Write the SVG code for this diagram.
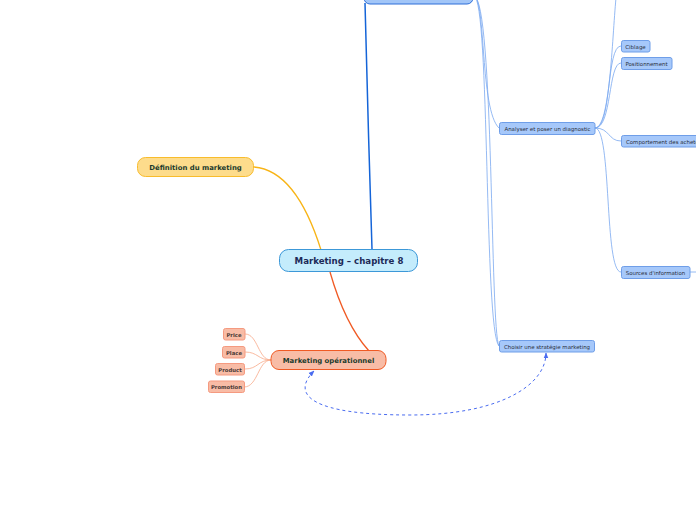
<svg xmlns="http://www.w3.org/2000/svg" width="696" height="520" viewBox="0 0 696 520">
<defs>
<marker id="arr" viewBox="0 0 10 10" refX="9" refY="5" markerWidth="6" markerHeight="6" orient="auto-start-reverse" markerUnits="userSpaceOnUse">
<path d="M0,1 L10,5 L0,9 z" fill="#4a6cf0"/>
</marker>
<style>
text{font-family:"DejaVu Sans","Liberation Sans",sans-serif;text-anchor:middle;dominant-baseline:central}
.blue rect{fill:#a6c8fa;stroke:#6f9ee8;stroke-width:1}
.blue text{font-size:5.45px;fill:#2a2f3a}
.sal rect{fill:#f8bca6;stroke:#f59a80;stroke-width:1}
.sal text{font-size:5.3px;fill:#4a3a36;font-weight:bold}
.c path{fill:none}
.lb{stroke:#7aa8f0;stroke-width:0.8}
.ls{stroke:#f8a888;stroke-width:0.8}
</style>
</defs>
<rect width="696" height="520" fill="#ffffff"/>
<g id="connectors" class="c">
<path d="M372,249 C370,180 366,60 365,3" stroke="#1464d8" stroke-width="1.5"/>
<path d="M254,167 C290,170 310,215 321,250" stroke="#f8b416" stroke-width="1.3"/>
<path d="M330,272 C338,300 350,330 369,351" stroke="#f05a24" stroke-width="1.3"/>
<path class="lb" d="M474,-4 C486,0 480,110 499,128"/>
<path class="lb" d="M474,-4 C490,0 484,330 499,346"/>
<path class="lb" d="M474,-4 C494,0 490,330 499,346"/>
<path class="lb" d="M595,128 C610,128 612,40 616,-2"/>
<path class="lb" d="M595,128 C612,128 606,46 621,46"/>
<path class="lb" d="M595,128 C612,128 608,63 621,63"/>
<path class="lb" d="M595,128 C610,128 608,141 621,141"/>
<path class="lb" d="M595,128 C612,128 604,272 621,272"/>
<path class="lb" d="M690,272 L696,272"/>
<path class="ls" d="M271,360 C258,360 258,334 245,334"/>
<path class="ls" d="M271,360 C258,360 258,352 245,352"/>
<path class="ls" d="M271,360 C258,360 258,369 245,369"/>
<path class="ls" d="M271,360 C258,360 258,387 244,387"/>
<path d="M314,371 C290,395 312,415 410,415 C500,415 546,385 546,353" stroke="#4a6cf0" stroke-width="1" stroke-dasharray="3,3" marker-start="url(#arr)" marker-end="url(#arr)"/>
</g>
<g id="top-node" class="blue">
<rect x="364" y="-20" width="109" height="24" rx="6" style="fill:#a2c6f8;stroke:#2f6fd8"/>
</g>
<g id="central">
<rect x="279.5" y="249.5" width="138" height="22" rx="9" fill="#c4ecfc" stroke="#3c98d8" stroke-width="1"/>
<text x="349" y="261" font-size="8.6" font-weight="bold" fill="#1c2a58">Marketing – chapitre 8</text>
</g>
<g id="definition">
<rect x="137.5" y="157.5" width="116" height="19" rx="8" fill="#fddc8c" stroke="#f8bc2c" stroke-width="1"/>
<text x="195.5" y="167.5" font-size="6.9" font-weight="bold" fill="#1a3a2c">Définition du marketing</text>
</g>
<g id="operationnel">
<rect x="271" y="350.5" width="115" height="19" rx="8" fill="#f8bca6" stroke="#f05a24" stroke-width="1"/>
<text x="328.5" y="360.5" font-size="6.9" font-weight="bold" fill="#1a3a2c">Marketing opérationnel</text>
</g>
<g id="price" class="sal"><rect x="223.5" y="328.5" width="21.5" height="11.5" rx="2"/><text x="234" y="334.5">Price</text></g>
<g id="place" class="sal"><rect x="222.5" y="346.5" width="22.5" height="11.5" rx="2"/><text x="234" y="352.5">Place</text></g>
<g id="product" class="sal"><rect x="215.5" y="363.5" width="29" height="11.5" rx="2"/><text x="230" y="369.5">Product</text></g>
<g id="promotion" class="sal"><rect x="208.5" y="381" width="36" height="11.5" rx="2"/><text x="226.5" y="387">Promotion</text></g>
<g id="analyser" class="blue"><rect x="499.5" y="122.5" width="95.5" height="12" rx="2"/><text x="547.5" y="128.7">Analyser et poser un diagnostic</text></g>
<g id="ciblage" class="blue"><rect x="621.5" y="40.5" width="28.5" height="11.5" rx="2"/><text x="635.5" y="46.5">Ciblage</text></g>
<g id="positionnement" class="blue"><rect x="621.5" y="57.5" width="50.5" height="12" rx="2"/><text x="646.5" y="63.7">Positionnement</text></g>
<g id="comportement" class="blue"><rect x="621.5" y="135.5" width="80" height="11.5" rx="2"/><text x="626" y="141.5" style="text-anchor:start">Comportement des acheteurs</text></g>
<g id="sources" class="blue"><rect x="621.5" y="266.5" width="68.5" height="12" rx="2"/><text x="655.5" y="272.7">Sources d'information</text></g>
<g id="choisir" class="blue"><rect x="499.5" y="340.5" width="95" height="11.5" rx="2"/><text x="547" y="346.5">Choisir une stratégie marketing</text></g>
</svg>
